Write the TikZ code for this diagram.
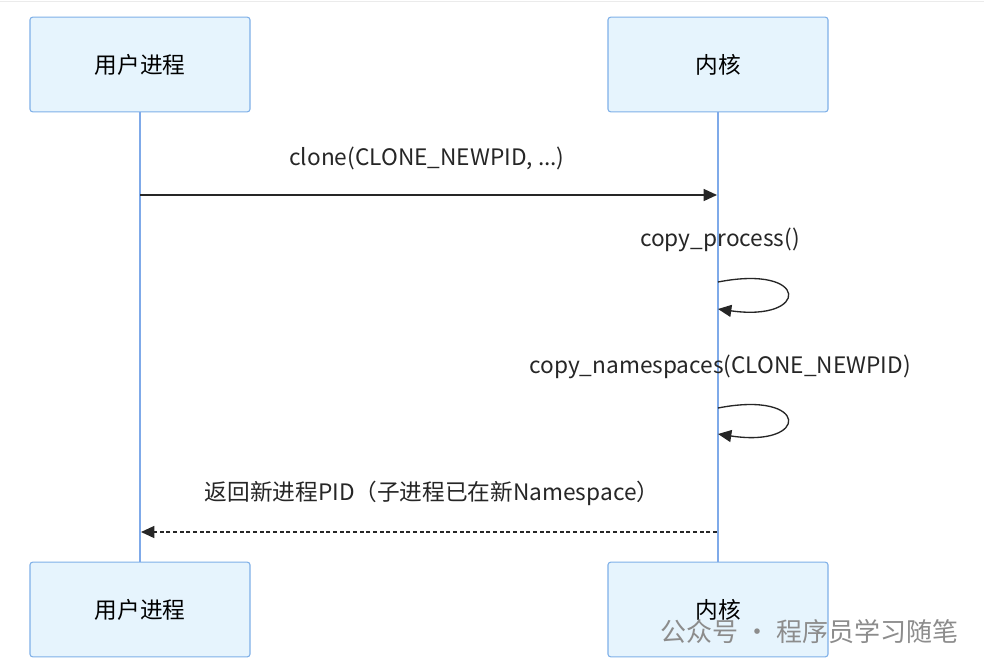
\documentclass[tikz,border=0pt]{standalone}
\usepackage{fontspec}
\setmainfont{Noto Sans CJK SC}
\usetikzlibrary{arrows.meta}
\definecolor{boxfill}{HTML}{E6F4FD}
\definecolor{boxline}{HTML}{7FB0E8}
\definecolor{life}{HTML}{7FAAE9}
\begin{document}
\begin{tikzpicture}[x=0.75pt,y=-0.75pt,
  actor/.style={draw=boxline,line width=0.8pt,fill=boxfill,rounded corners=2pt,minimum width=165pt,minimum height=71pt,font=\fontsize{17}{19}\selectfont,inner sep=0},
  lbl/.style={font=\fontsize{17}{19}\selectfont,text=black!85},
  msg/.style={draw=black!85,line width=1pt,-{Triangle[length=10pt,width=9pt]}},
  lifel/.style={draw=life,line width=1.8pt}]
\useasboundingbox (0,0) rectangle (984,671);
\fill[white] (0,0) rectangle (984,671);
\draw[black!8] (0,1) -- (984,1);
\node[actor] (u1) at (140,64.5) {用户进程};
\node[actor] (k1) at (718,64.5) {内核};
\node[actor] (u2) at (140,609.5) {用户进程};
\node[actor] (k2) at (718,609.5) {内核};
\draw[lifel] (u1.south) -- (u2.north);
\draw[lifel] (k1.south) -- (k2.north);
\coordinate (a1) at (140,195); \coordinate (b1) at (717,195);
\draw[msg] (a1) -- (b1);
\node[lbl] (t1) at (427,158) {clone(CLONE\_NEWPID, ...)};
\coordinate (s1) at (718,282); \coordinate (e1) at (718,309);
\draw[msg] (s1) .. controls (810,264) and (810,322) .. (e1);
\node[lbl] (t2) at (720,240) {copy\_process()};
\coordinate (s2) at (718,408); \coordinate (e2) at (718,434);
\draw[msg] (s2) .. controls (810,390) and (810,448) .. (e2);
\node[lbl] (t3) at (720,367) {copy\_namespaces(CLONE\_NEWPID)};
\coordinate (a2) at (717,532); \coordinate (b2) at (141,532);
\draw[msg,dashed,dash pattern=on 3pt off 2pt] (a2) -- (b2);
\node[lbl] (t4) at (432,493) {返回新进程PID（子进程已在新Namespace）};
\node[font=\fontsize{19.5}{21}\selectfont,text=black!45,anchor=west] (wm) at (656,632) {公众号 · 程序员学习随笔};
\end{tikzpicture}
\end{document}
